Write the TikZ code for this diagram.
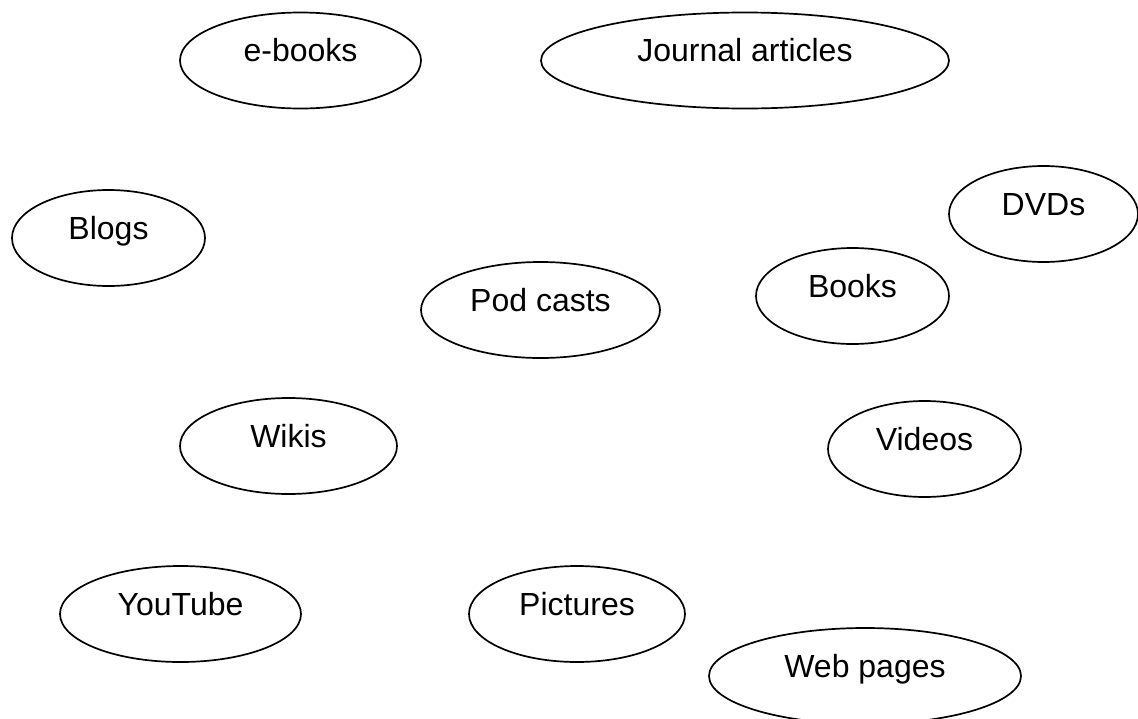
\documentclass[tikz,border=0pt]{standalone}
\usepackage{fontspec}
\setmainfont{Liberation Sans}
\usetikzlibrary{shapes.geometric}
\tikzset{
  bubble/.style={draw=black, line width=1.7pt, ellipse, inner sep=0pt, outer sep=0pt,
    font=\fontsize{32pt}{38pt}\selectfont, text height=0.75em, text depth=0.5em},
}
\begin{document}
\begin{tikzpicture}[x=1pt,y=-1pt]
\useasboundingbox (0,0) rectangle (1138,718);
\clip (0,0) rectangle (1138,718);
\node[bubble, minimum width=241pt, minimum height=96pt] (ebooks) at (300.5,60.5) {e-books};
\node[bubble, minimum width=408pt, minimum height=96pt] (journal) at (745,60.5) {Journal articles};
\node[bubble, minimum width=193pt, minimum height=96pt] (blogs) at (108.5,238) {Blogs};
\node[bubble, minimum width=189pt, minimum height=96pt] (dvds) at (1043.5,214) {DVDs};
\node[bubble, minimum width=239pt, minimum height=96pt] (podcasts) at (540.5,310) {Pod casts};
\node[bubble, minimum width=193pt, minimum height=96pt] (books) at (852.5,296) {Books};
\node[bubble, minimum width=217pt, minimum height=96pt] (wikis) at (288.5,446) {Wikis};
\node[bubble, minimum width=193pt, minimum height=96pt] (videos) at (924.5,449) {Videos};
\node[bubble, minimum width=241pt, minimum height=96pt] (youtube) at (180.5,614) {YouTube};
\node[bubble, minimum width=216pt, minimum height=96pt] (pictures) at (577,614) {Pictures};
\node[bubble, minimum width=312pt, minimum height=96pt] (webpages) at (865,676) {Web pages};
\end{tikzpicture}
\end{document}
